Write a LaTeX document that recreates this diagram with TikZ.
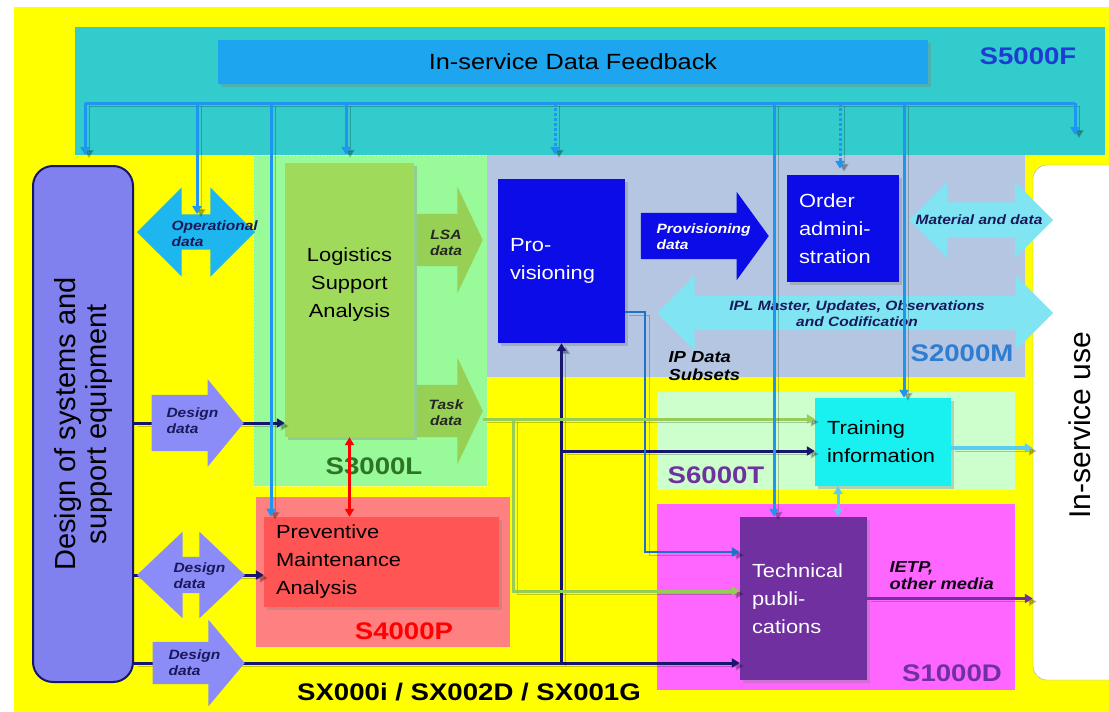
\documentclass[tikz,border=0pt]{standalone}
\usepackage{fontspec}
\setmainfont{Liberation Sans}[FakeStretch=1.15]
\newfontfamily\uprfont{Liberation Sans}
\usetikzlibrary{positioning,shapes.arrows,arrows.meta,shadows}

\definecolor{yel}{RGB}{255,255,0}
\definecolor{band}{RGB}{51,204,204}
\definecolor{fbblue}{RGB}{30,165,240}
\definecolor{busblue}{RGB}{30,150,240}
\definecolor{dsgnfill}{RGB}{128,128,238}
\definecolor{dsgnarrow}{RGB}{140,140,248}
\definecolor{navy}{RGB}{22,22,110}
\definecolor{navytxt}{RGB}{25,25,90}
\definecolor{opblue}{RGB}{30,182,238}
\definecolor{lsaregion}{RGB}{153,250,153}
\definecolor{lsafill}{RGB}{160,218,90}
\definecolor{lsaarrow}{RGB}{150,208,85}
\definecolor{steel}{RGB}{180,198,226}
\definecolor{provblue}{RGB}{12,12,232}
\definecolor{lcyan}{RGB}{128,228,242}
\definecolor{mint}{RGB}{204,255,204}
\definecolor{trcyan}{RGB}{25,240,240}
\definecolor{salmon}{RGB}{255,128,128}
\definecolor{pmared}{RGB}{255,85,85}
\definecolor{magen}{RGB}{255,102,255}
\definecolor{tpurp}{RGB}{112,48,160}
\definecolor{s5ftxt}{RGB}{30,60,210}
\definecolor{s2mtxt}{RGB}{47,125,210}
\definecolor{s3ltxt}{RGB}{45,115,40}
\definecolor{provln}{RGB}{30,115,200}
\definecolor{grnln}{RGB}{150,205,85}
\definecolor{cyln}{RGB}{90,205,240}

\tikzset{
  >={Triangle[length=8pt,width=9pt]},
  region/.style={rectangle,inner sep=0pt},
  box/.style={rectangle,inner xsep=12pt,inner ysep=0pt,align=left,
    font=\fontsize{19}{28}\selectfont,drop shadow={opacity=.35}},
  tag/.style={font=\bfseries\fontsize{24}{24}\selectfont},
  fat/.style={single arrow,inner xsep=0pt,anchor=tip},
  fatt/.style={double arrow,inner xsep=0pt},
  ftext/.style={font=\bfseries\itshape\fontsize{13.5}{16}\selectfont,align=left},
  shd/.style={preaction={draw=black,opacity=.22,transform canvas={xshift=4pt,yshift=-3pt}}},
  bus/.style={shd,draw=busblue,line width=3pt},
  navyln/.style={shd,draw=navy,line width=3pt},
}

\begin{document}
\begin{tikzpicture}[x=1pt,y=-1pt]
 \useasboundingbox (0,0) rectangle (1109,712);
 \fill[white] (0,0) rectangle (1109,712);
 \fill[yel] (14,7) rectangle (1109,712);
 % areas of the specifications
 \node[region,fill=band,minimum width=1030pt,minimum height=128pt] (s5f) at (590,91) {};
 \node[region,fill=lsaregion,draw=yellow!50!white,densely dotted,minimum width=234pt,minimum height=331pt] (s3l) at (370,320.5) {};
 \node[region,fill=steel,minimum width=538pt,minimum height=222pt] (s2m) at (756,266) {};
 \node[region,fill=mint,minimum width=358pt,minimum height=98pt] (s6t) at (836,441) {};
 \node[region,fill=salmon,minimum width=254pt,minimum height=150pt] (s4p) at (383,572) {};
 \node[region,fill=magen,minimum width=358pt,minimum height=186pt] (s1d) at (836,597) {};
 \node[tag,text=s5ftxt] (l5f) at (1028,56) {S5000F};
 \node[tag,text=s3ltxt] (l3l) at (374,466) {S3000L};
 \node[tag,text=s2mtxt] (l2m) at (962,353) {S2000M};
 \node[tag,text=tpurp] (l6t) at (716,475) {S6000T};
 \node[tag,text=red] (l4p) at (404,631) {S4000P};
 \node[tag,text=tpurp] (l1d) at (952,673) {S1000D};
 \node[tag,text=black] (lsx) at (469,692) {SX000i / SX002D / SX001G};

 % boxes
 \node[rectangle,fill=fbblue,minimum width=710pt,minimum height=44pt,
   font=\fontsize{22}{22}\selectfont,drop shadow={opacity=.35}] (fb) at (573,62) {In-service Data Feedback};
 \node[rectangle,rounded corners=20pt,draw=navy,line width=2pt,fill=dsgnfill,
   minimum width=100pt,minimum height=516pt] (dsgn) at (83,424) {};
 \node[rotate=90,align=center,font=\uprfont\fontsize{29}{31}\selectfont] (dsgnt) at (84,424)
   {Design of systems and\\support equipment};
 \node[rectangle,rounded corners=14pt,draw=gray!70,fill=white,
   minimum width=92pt,minimum height=515pt] (isu) at (1079,422.5) {};
 \node[rotate=90,font=\uprfont\fontsize{30}{30}\selectfont] (isut) at (1080,425) {In-service use};
 \node[box,fill=lsafill,minimum width=129pt,minimum height=274pt] (lsa) at (349.5,300) {};
 \node[align=center,font=\fontsize{19}{28}\selectfont] (lsat) at (349.5,285) {Logistics\\Support\\Analysis};
 \node[box,fill=provblue,text=white,text width=103pt,minimum height=164pt] (prov) at (561.5,261) {Pro-\\visioning};
 \node[box,fill=provblue,text=white,text width=88pt,minimum height=107pt] (oa) at (843,228.5) {Order\\admini-\\stration};
 \node[box,fill=trcyan,text width=112pt,minimum height=88pt] (tr) at (883,442) {Training\\information};
 \node[box,fill=tpurp,text=white,text width=103pt,minimum height=163pt] (tp) at (803.5,598.5) {Technical\\publi-\\cations};
 \node[box,fill=pmared,text width=211pt,minimum height=90pt] (pma) at (381.5,562) {Preventive\\Maintenance\\Analysis};

 % design data lines
 \coordinate (dd1tip) at (244,423);
 \coordinate (dd2c) at (191,575);
 \coordinate (dd3tip) at (245,663);
 \coordinate (j2) at (563,451);
 \draw[navyln,->] (dsgn.east |- dd1tip) -- (lsa.west |- dd1tip);
 \draw[navyln,->] (dsgn.east |- dd2c) -- (pma.west |- dd2c);
 \draw[navyln,->] (dsgn.east |- dd3tip) -- (tp.west |- dd3tip);
 \draw[navyln,->] (prov.south |- dd3tip) -- (prov.south);
 \draw[navyln,->] (j2) -- (j2 -| tr.west);
 \coordinate (pvb) at (645,552);
 \draw[shd,draw=provln,line width=2.5pt,->] ([yshift=-51pt]prov.east) -| (pvb) -- (pvb -| tp.west);

 % fat arrows
 \node[fat,fill=dsgnarrow,minimum height=92pt,inner ysep=28pt,single arrow head extend=15.5pt,single arrow tip angle=101] (dd1) at (dd1tip) {};
 \node[ftext,text=navytxt,anchor=west] (dd1t) at (163,421) {Design\\data};
 \node[fatt,fill=dsgnarrow,minimum height=108pt,inner ysep=18pt,double arrow head extend=25pt,double arrow tip angle=87] (dd2) at (dd2c) {};
 \node[ftext,text=navytxt,anchor=west] (dd2t) at (170,576) {Design\\data};
 \node[fat,fill=dsgnarrow,minimum height=92pt,inner ysep=21pt,single arrow head extend=22pt,single arrow tip angle=100] (dd3) at (dd3tip) {};
 \node[ftext,text=navytxt,anchor=west] (dd3t) at (165,663) {Design\\data};
 \node[fatt,fill=opblue,minimum height=118pt,inner ysep=17.5pt,double arrow head extend=27pt,double arrow tip angle=90] (opd) at (196,232) {};
 \node[ftext,text=navytxt,anchor=west] (opdt) at (168,234) {Operational\\data};
 \node[fat,fill=lsaarrow,minimum height=66pt,inner ysep=26pt,single arrow head extend=27pt,single arrow tip angle=129] (lsad) at (483,240) {};
 \node[ftext,text=black!85,align=center] (lsadt) at (446,243) {LSA\\data};
 \node[fat,fill=lsaarrow,minimum height=66pt,inner ysep=26pt,single arrow head extend=27pt,single arrow tip angle=129] (td) at (483,411) {};
 \node[ftext,text=black!85,align=center] (tdt) at (446,413) {Task\\data};
 \node[fat,fill=provblue,minimum height=128pt,inner ysep=23pt,single arrow head extend=21pt,single arrow tip angle=108] (pd) at (769,236) {};
 \node[ftext,text=white,anchor=west] (pdt) at (653,237) {Provisioning\\data};
 \node[fatt,fill=lcyan,minimum height=144pt,inner ysep=17.5pt,double arrow head extend=20.5pt,double arrow tip angle=90] (mat) at (981,220) {};
 \node[ftext,text=navytxt] (matt) at (979,220) {Material and data};
 \node[fatt,fill=lcyan,minimum height=396pt,inner ysep=17pt,double arrow head extend=20.5pt,double arrow tip angle=90] (ipl) at (855,313) {};
 \node[ftext,text=navytxt,align=center] (iplt) at (857,314) {IPL Master, Updates, Observations\\and Codification};
 \node[ftext,font=\bfseries\itshape\fontsize{16}{18}\selectfont,anchor=west] (ipds) at (665,366) {IP Data\\Subsets};
 \node[ftext,font=\bfseries\itshape\fontsize{16}{17}\selectfont,text=black!85!tpurp,anchor=west] (ietp) at (886,576) {IETP,\\other media};

 % task data to training and publications
 \coordinate (gj) at (513,419);
 \coordinate (gk) at (513,591);
 \draw[shd,draw=grnln,line width=3pt,->] (td.tip |- gj) -- (gj -| tr.west);
 \draw[shd,draw=grnln,line width=3pt,->] (gj) -- (gk) -- (gk -| tp.west);
 \draw[draw=red,line width=2.5pt,<->] (lsa.south) -- (lsa.south |- pma.north);
 \draw[shd,draw=cyln,line width=3.5pt,->] ([yshift=-6pt]tr.east) -- ([yshift=-6pt]tr.east -| isu.west);
 \draw[draw=cyln,line width=3pt,<->] ([xshift=-45pt]tr.south) -- ([xshift=-45pt]tr.south |- tp.north);
 \draw[shd,draw=tpurp,line width=2.5pt,->] (tp.east) -- (tp.east -| isu.west);

 % in-service feedback
 \coordinate (b0) at (85,103);
 \coordinate (b1) at (197,103);
 \coordinate (b2) at (271,103);
 \coordinate (b3) at (346,103);
 \coordinate (b4) at (555,103);
 \coordinate (b5) at (774,103);
 \coordinate (b6) at (840,103);
 \coordinate (b7) at (904,103);
 \coordinate (b8) at (1075,103);
 \draw[bus] (b0) -- (b8);
 \draw[bus,->] (b0) -- (b0 |- s5f.south);
 \draw[bus,->] (b1) -- (b1 |- opd.north);
 \draw[bus,->] (b2) -- (b2 |- pma.north);
 \draw[bus,->] (b3) -- (b3 |- s3l.north);
 \draw[bus,->,dash pattern=on 3pt off 2pt] (b4) -- (b4 |- s2m.north);
 \draw[bus,->] (b5) -- (b5 |- tp.north);
 \draw[bus,->,dash pattern=on 3pt off 2pt,shorten >=6pt] (b6) -- (b6 |- oa.north);
 \draw[bus,->] (b7) -- (b7 |- tr.north);
 \draw[bus,->,shorten >=20pt] (b8) -- (b8 |- s5f.south);
\end{tikzpicture}
\end{document}
